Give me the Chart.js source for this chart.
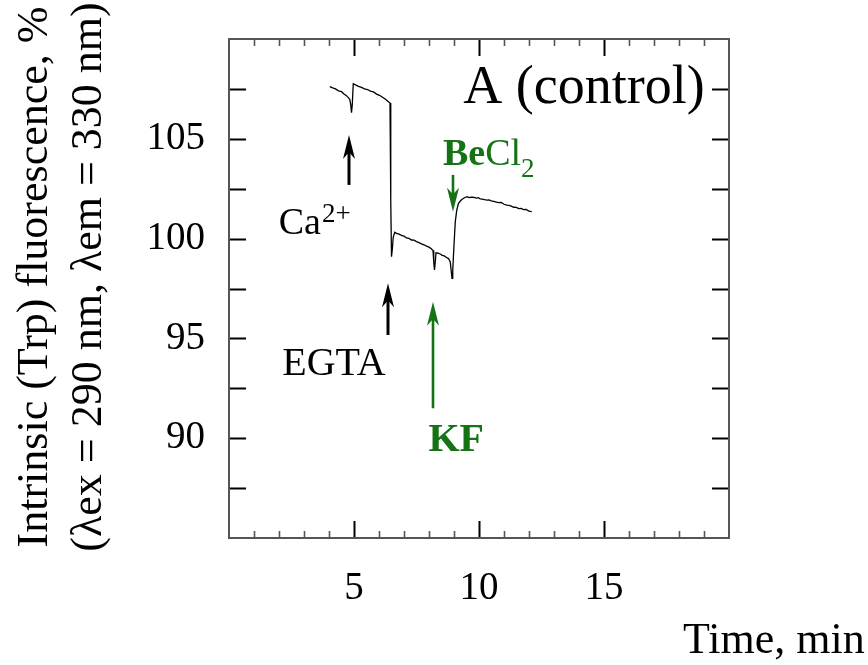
<!DOCTYPE html>
<html><head><meta charset="utf-8">
<script src="https://cdn.jsdelivr.net/npm/chart.js@4/dist/chart.umd.min.js"></script>
<style>html,body{margin:0;padding:0;background:#fff}#wrap{width:868px;height:665px;position:relative}</style>
</head><body><div id="wrap"><canvas id="c" width="868" height="665"></canvas></div>
<script>
// ---- data ----
const timeMin = [4.03,4.15,4.26,4.38,4.50,4.60,4.70,4.78,4.83,4.87,4.90,4.93,4.97,5.06,5.18,5.30,5.42,5.54,5.66,5.78,5.90,6.02,6.14,6.26,6.39,6.44,6.47,6.50,6.53,6.57,6.63,6.70,6.80,6.90,7.00,7.10,7.20,7.30,7.40,7.50,7.60,7.70,7.80,7.90,8.00,8.08,8.16,8.19,8.22,8.25,8.28,8.36,8.45,8.53,8.61,8.70,8.78,8.85,8.92,8.95,8.99,9.05,9.11,9.18,9.29,9.38,9.52,9.60,9.70,9.81,9.90,9.97,10.05,10.13,10.22,10.32,10.40,10.49,10.59,10.69,10.79,10.89,11.00,11.11,11.20,11.29,11.39,11.49,11.59,11.69,11.78,11.88,12.00,12.11];
const fluorescence = [107.61,107.55,107.50,107.40,107.36,107.24,107.16,107.05,106.98,106.70,106.31,106.69,107.76,107.70,107.63,107.58,107.50,107.47,107.39,107.35,107.24,107.18,107.08,106.98,106.84,106.79,101.93,99.09,99.43,100.08,100.32,100.26,100.22,100.16,100.12,100.03,100.01,99.93,99.92,99.85,99.80,99.74,99.69,99.62,99.57,99.50,99.40,98.83,98.43,98.83,99.29,99.27,99.23,99.16,99.13,99.05,99.00,98.83,98.01,98.43,99.43,100.83,101.43,101.77,101.93,102.02,102.10,102.05,102.08,102.06,102.03,102.05,101.99,101.98,101.95,101.93,101.94,101.89,101.86,101.83,101.80,101.81,101.72,101.68,101.66,101.63,101.57,101.56,101.50,101.51,101.45,101.46,101.38,101.35];
const xTickLabels = [5, 10, 15];
const yTickLabels = [90, 95, 100, 105];
// additions: time (min), arrow tail and tip (fluorescence %)
const additionTimes = [4.80, 6.36, 8.16, 8.96];
const arrowTails = [102.69, 95.17, 91.50, 103.19];
const arrowTips = [105.19, 97.76, 96.84, 101.35];
const additionNames = ['Ca2+', 'EGTA', 'KF', 'BeCl2'];

// ---- styles ----
const SERIF = "'Liberation Serif','Times New Roman',serif";
const GREEN = '#157315';
const arrowStyles = [
  {color:'#000', width:3},
  {color:'#000', width:3},
  {color:GREEN, width:2.6},
  {color:GREEN, width:2.6}
];
// label anchors in data coordinates
const labelAnchors = {
  'Ca2+': {x:1.99, y:100.23},
  'EGTA': {x:2.13, y:93.17},
  'KF': {x:7.98, y:89.36},
  'BeCl2': {x:8.56, y:103.69}
};

function drawArrow(ctx, x, y0, y1, st){
  const dir = Math.sign(y1 - y0);
  const headLen = 24, hw = 6;
  ctx.save();
  ctx.strokeStyle = st.color; ctx.fillStyle = st.color; ctx.lineWidth = st.width;
  ctx.beginPath();
  ctx.moveTo(x, y0);
  ctx.lineTo(x, y1 - dir*headLen*0.7);
  ctx.stroke();
  ctx.beginPath();
  ctx.moveTo(x, y1);
  ctx.lineTo(x - hw, y1 - dir*headLen);
  ctx.lineTo(x, y1 - dir*headLen*0.72);
  ctx.lineTo(x + hw, y1 - dir*headLen);
  ctx.closePath();
  ctx.fill();
  ctx.restore();
}

function drawParts(ctx, x, y, parts, color){
  ctx.save();
  ctx.fillStyle = color; ctx.textBaseline = 'alphabetic'; ctx.textAlign = 'left';
  let cx = x;
  for (const p of parts){
    ctx.font = p.font;
    ctx.fillText(p.text, cx + (p.dx||0), y + (p.dy||0));
    cx += ctx.measureText(p.text).width + (p.dx||0);
  }
  ctx.restore();
}

const decorPlugin = {
  id:'decor',
  afterDraw(chart){
    const ctx = chart.ctx;
    const xs = chart.scales.x, ys = chart.scales.y;
    const a = chart.chartArea;
    ctx.save();
    ctx.lineCap = 'butt';
    xs.ticks.forEach(t => {
      if (t.value <= xs.min || t.value >= xs.max) return;
      const px = Math.round(xs.getPixelForValue(t.value)) + 0.5;
      const major = xTickLabels.includes(t.value);
      const len = major ? 17 : 7;
      ctx.strokeStyle = major ? '#000' : '#555';
      ctx.lineWidth = major ? 2 : 1.6;
      ctx.beginPath();
      ctx.moveTo(px, a.bottom); ctx.lineTo(px, a.bottom - len);
      ctx.moveTo(px, a.top); ctx.lineTo(px, a.top + len);
      ctx.stroke();
    });
    ys.ticks.forEach(t => {
      if (t.value <= ys.min || t.value >= ys.max) return;
      const py = Math.round(ys.getPixelForValue(t.value)) + 0.5;
      ctx.strokeStyle = '#000'; ctx.lineWidth = 2;
      ctx.beginPath();
      ctx.moveTo(a.left, py); ctx.lineTo(a.left + 17, py);
      ctx.moveTo(a.right, py); ctx.lineTo(a.right - 17, py);
      ctx.stroke();
    });
    ctx.strokeStyle = '#555'; ctx.lineWidth = 2;
    ctx.strokeRect(a.left, a.top, a.right - a.left, a.bottom - a.top);
    ctx.restore();

    additionTimes.forEach((t, i) => {
      drawArrow(ctx, xs.getPixelForValue(t), ys.getPixelForValue(arrowTails[i]), ys.getPixelForValue(arrowTips[i]), arrowStyles[i]);
    });
    const P = (n) => ({x: xs.getPixelForValue(labelAnchors[n].x), y: ys.getPixelForValue(labelAnchors[n].y)});
    let p = P('Ca2+');
    drawParts(ctx, p.x, p.y, [{text:'Ca', font:`38px ${SERIF}`}, {text:'2+', font:`27px ${SERIF}`, dy:-12, dx:1}], '#000');
    p = P('EGTA');
    drawParts(ctx, p.x, p.y, [{text:'EGTA', font:`40px ${SERIF}`}], '#000');
    p = P('KF');
    drawParts(ctx, p.x, p.y, [{text:'KF', font:`bold 40px ${SERIF}`}], GREEN);
    p = P('BeCl2');
    drawParts(ctx, p.x, p.y, [{text:'Be', font:`bold 38px ${SERIF}`}, {text:'Cl', font:`38px ${SERIF}`}, {text:'2', font:`27px ${SERIF}`, dy:12}], GREEN);

    ctx.save();
    ctx.fillStyle = '#000'; ctx.font = `54px ${SERIF}`; ctx.textAlign = 'right'; ctx.textBaseline = 'alphabetic';
    ctx.fillText('A (control)', xs.getPixelForValue(19.03), ys.getPixelForValue(106.78));
    ctx.restore();

    ctx.save();
    ctx.fillStyle = '#000'; ctx.font = `44px ${SERIF}`; ctx.textBaseline = 'alphabetic';
    ctx.textAlign = 'left';
    ctx.fillText('Time, min', 683, 653);
    ctx.translate(0, 277);
    ctx.rotate(-Math.PI/2);
    ctx.textAlign = 'center';
    ctx.fillText('Intrinsic (Trp) fluorescence, %', 0, 47);
    ctx.fillText('(\u03bbex = 290 nm, \u03bbem = 330 nm)', 0, 101);
    ctx.restore();
  }
};

function build(){
  new Chart(document.getElementById('c'), {
    type: 'scatter',
    data: {
      datasets: [{
        data: timeMin.map((t, i) => ({x: t, y: fluorescence[i]})),
        showLine: true,
        borderColor: '#000',
        borderWidth: 1.3,
        pointRadius: 0,
        tension: 0,
        fill: false
      }]
    },
    options: {
      responsive: false,
      animation: false,
      devicePixelRatio: 1,
      layout: {autoPadding: false, padding: {top: 39, right: 139, left: 0, bottom: 0}},
      plugins: {legend: {display: false}, tooltip: {enabled: false}},
      scales: {
        x: {
          type: 'linear', min: 0, max: 20,
          grid: {display: false, drawTicks: false},
          border: {display: false},
          ticks: {
            stepSize: 1, autoSkip: false, maxRotation: 0, padding: 27,
            color: '#000', font: {family: SERIF, size: 39},
            callback: v => xTickLabels.includes(v) ? String(v) : ''
          },
          afterFit: s => { s.height = 127; s.paddingLeft = 0; s.paddingRight = 0; s.paddingTop = 0; s.paddingBottom = 0; }
        },
        y: {
          type: 'linear', min: 85, max: 110,
          grid: {display: false, drawTicks: false},
          border: {display: false},
          ticks: {
            stepSize: 2.5, autoSkip: false, padding: 24,
            color: '#000', font: {family: SERIF, size: 39},
            callback: v => yTickLabels.includes(v) ? String(v) : ''
          },
          afterFit: s => { s.width = 229; s.paddingTop = 0; s.paddingBottom = 0; s.paddingLeft = 0; s.paddingRight = 0; }
        }
      }
    },
    plugins: [decorPlugin]
  });
}
const fontLoads = [
  "40px 'Liberation Serif'", "bold 40px 'Liberation Serif'"
].map(f => document.fonts.load(f).catch(() => null));
Promise.all(fontLoads).then(build, build);
</script>
</body></html>
